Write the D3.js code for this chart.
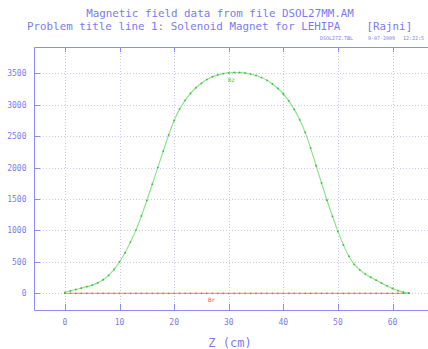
<!DOCTYPE html>
<html>
<head>
<meta charset="utf-8">
<script src="https://cdn.jsdelivr.net/npm/d3@7"></script>
<style>
  body { margin: 0; background: #fff; }
  svg { display: block; }
</style>
</head>
<body>
<div id="chart"></div>
<script>
// field map along the axis
const zValues = [0, 1, 2, 3, 4, 5, 6, 7, 8, 9, 10, 11, 12, 13, 14, 15, 16, 17, 18, 19,
  20, 21, 22, 23, 24, 25, 26, 27, 28, 29, 30, 31, 32, 33, 34, 35, 36, 37, 38, 39,
  40, 41, 42, 43, 44, 45, 46, 47, 48, 49, 50, 51, 52, 53, 54, 55, 56, 57, 58, 59,
  60, 61, 62, 63];
const bzValues = [15, 38, 60, 82, 105, 130, 165, 215, 285, 380, 500, 645, 815, 1005, 1230, 1475, 1735, 2000, 2260, 2520,
  2750, 2930, 3070, 3180, 3270, 3340, 3400, 3445, 3475, 3495, 3507, 3512, 3512, 3503, 3488, 3465, 3432, 3388, 3330, 3258,
  3170, 3060, 2925, 2760, 2560, 2310, 2030, 1755, 1480, 1225, 985, 770, 590, 460, 372, 305, 255, 208, 162, 118,
  76, 42, 18, 5];
const brValues = [0, 0, 0, 0, 0, 0, 0, 0, 0, 0, 0, 0, 0, 0, 0, 0, 0, 0, 0, 0,
  0, 0, 0, 0, 0, 0, 0, 0, 0, 0, 0, 0, 0, 0, 0, 0, 0, 0, 0, 0,
  0, 0, 0, 0, 0, 0, 0, 0, 0, 0, 0, 0, 0, 0, 0, 0, 0, 0, 0, 0,
  0, 0, 0, 0];
const xTicks = [0, 10, 20, 30, 40, 50, 60];
const yTicks = [0, 500, 1000, 1500, 2000, 2500, 3000, 3500];

const width = 428, height = 349;
const plot = { left: 34, right: 430, top: 47, bottom: 310 };
const axisColor = '#8c8cf5';
const textColor = '#7b7bf0';
const gridColor = '#c8c8f5';
const mono = '"DejaVu Sans Mono", "Liberation Mono", monospace';

const svg = d3.select('#chart')
  .append('svg')
  .attr('width', width)
  .attr('height', height);

const x = d3.scaleLinear()
  .domain([-5.67, 66.5])
  .range([plot.left, 428]);

const y = d3.scaleLinear()
  .domain([-266, 3918])
  .range([plot.bottom, plot.top]);

// titles
svg.append('text')
  .attr('x', 220)
  .attr('y', 17)
  .attr('text-anchor', 'middle')
  .attr('font-family', mono)
  .attr('font-size', 10.85)
  .attr('fill', textColor)
  .text('Magnetic field data from file DSOL27MM.AM');

svg.append('text')
  .attr('x', 27)
  .attr('y', 29.5)
  .attr('font-family', mono)
  .attr('font-size', 10.85)
  .attr('fill', textColor)
  .attr('xml:space', 'preserve')
  .style('white-space', 'pre')
  .text('Problem title line 1: Solenoid Magnet for LEHIPA    [Rajni]');

const stamp = svg.append('g')
  .attr('font-family', mono)
  .attr('font-size', 5)
  .attr('fill', textColor);
stamp.append('text').attr('x', 320).attr('y', 40).text('DSOL27Z.TBL');
stamp.append('text').attr('x', 368).attr('y', 40).text('9-07-2009');
stamp.append('text').attr('x', 403).attr('y', 40).text('12:22:5');

// grid
const grid = svg.append('g')
  .attr('stroke', gridColor)
  .attr('stroke-width', 1)
  .attr('stroke-dasharray', '1,2');

grid.selectAll('.vgrid')
  .data(xTicks)
  .enter().append('line')
  .attr('class', 'vgrid')
  .attr('x1', d => Math.round(x(d)) + 0.5)
  .attr('x2', d => Math.round(x(d)) + 0.5)
  .attr('y1', plot.top)
  .attr('y2', plot.bottom);

grid.selectAll('.hgrid')
  .data(yTicks)
  .enter().append('line')
  .attr('class', 'hgrid')
  .attr('x1', plot.left)
  .attr('x2', plot.right)
  .attr('y1', d => Math.round(y(d)) + 0.5)
  .attr('y2', d => Math.round(y(d)) + 0.5);

// frame (right edge falls outside the picture)
const frame = svg.append('g')
  .attr('stroke', axisColor)
  .attr('stroke-width', 1)
  .attr('fill', 'none');

frame.append('path')
  .attr('d', `M${plot.right},${plot.top + 0.5}H${plot.left + 0.5}V${plot.bottom + 0.5}H${plot.right}`);

// inside ticks
frame.selectAll('.xt')
  .data(xTicks)
  .enter().append('path')
  .attr('class', 'xt')
  .attr('d', d => {
    const px = Math.round(x(d)) + 0.5;
    return `M${px},${plot.bottom}v-6M${px},${plot.top}v5`;
  });

frame.selectAll('.yt')
  .data(yTicks)
  .enter().append('path')
  .attr('class', 'yt')
  .attr('d', d => `M${plot.left},${Math.round(y(d)) + 0.5}h6`);

// tick labels
svg.selectAll('.xl')
  .data(xTicks)
  .enter().append('text')
  .attr('class', 'xl')
  .attr('x', d => x(d))
  .attr('y', 325)
  .attr('text-anchor', 'middle')
  .attr('font-family', mono)
  .attr('font-size', 8)
  .attr('fill', textColor)
  .text(d => d);

svg.selectAll('.yl')
  .data(yTicks)
  .enter().append('text')
  .attr('class', 'yl')
  .attr('x', 26.5)
  .attr('y', d => y(d) + 3)
  .attr('text-anchor', 'end')
  .attr('font-family', mono)
  .attr('font-size', 8)
  .attr('fill', textColor)
  .text(d => d);

svg.append('text')
  .attr('x', 230)
  .attr('y', 347)
  .attr('text-anchor', 'middle')
  .attr('font-family', mono)
  .attr('font-size', 12)
  .attr('fill', textColor)
  .attr('xml:space', 'preserve')
  .text('Z (cm)');

// curves
const bz = zValues.map((z, i) => ({ z: z, v: bzValues[i] }));
const br = zValues.map((z, i) => ({ z: z, v: brValues[i] }));

const line = d3.line()
  .x(d => x(d.z))
  .y(d => y(d.v))
  .curve(d3.curveMonotoneX);

svg.append('path')
  .datum(br)
  .attr('fill', 'none')
  .attr('stroke', '#ff9a9a')
  .attr('stroke-width', 1.2)
  .attr('d', line);

svg.append('path')
  .datum(bz)
  .attr('fill', 'none')
  .attr('stroke', '#8fe38f')
  .attr('stroke-width', 1.2)
  .attr('d', line);

svg.selectAll('.brdot')
  .data(br)
  .enter().append('circle')
  .attr('class', 'brdot')
  .attr('cx', d => x(d.z))
  .attr('cy', d => y(d.v))
  .attr('r', 0.9)
  .attr('fill', '#f05a5a');

svg.selectAll('.bzdot')
  .data(bz)
  .enter().append('circle')
  .attr('class', 'bzdot')
  .attr('cx', d => x(d.z))
  .attr('cy', d => y(d.v))
  .attr('r', 0.9)
  .attr('fill', '#3cba3c');

// curve labels
svg.append('text')
  .attr('x', x(29.8))
  .attr('y', y(3400) + 2)
  .attr('font-family', mono)
  .attr('font-size', 6)
  .attr('fill', '#55c955')
  .text('Bz');

svg.append('text')
  .attr('x', x(26.2))
  .attr('y', y(-100) + 2)
  .attr('font-family', mono)
  .attr('font-size', 6)
  .attr('fill', '#f06060')
  .text('Br');
</script>
</body>
</html>
